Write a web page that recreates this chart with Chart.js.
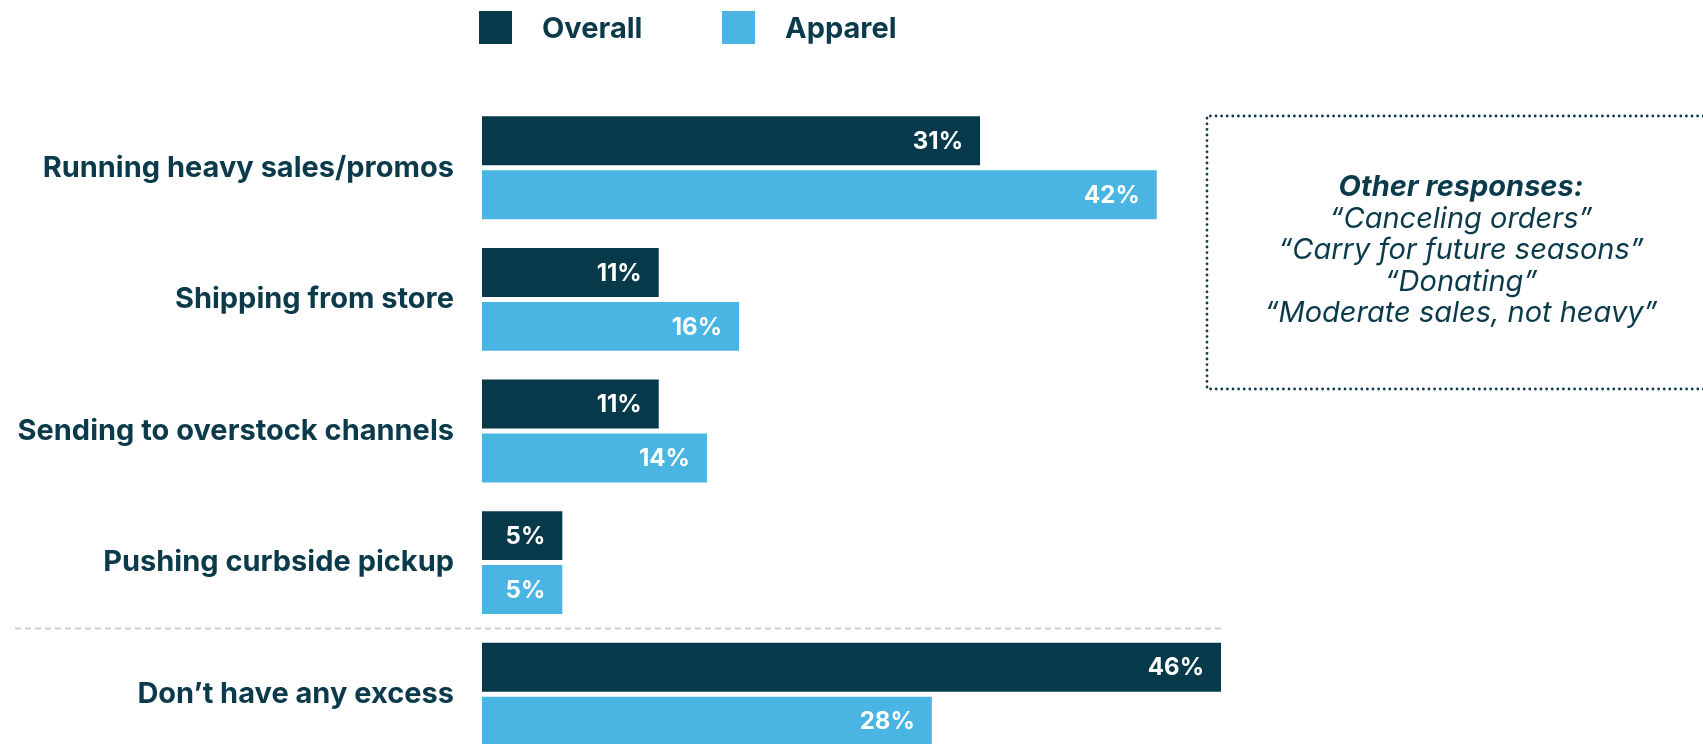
<!DOCTYPE html>
<html>
<head>
<meta charset="utf-8">
<script src="https://cdn.jsdelivr.net/npm/chart.js@4.4.0/dist/chart.umd.min.js"></script>
<style>
  html, body { margin: 0; padding: 0; background: #fff; overflow: hidden; }
  #wrap { width: 1703px; height: 760px; position: relative; }
</style>
</head>
<body>
<div id="wrap"><canvas id="chart"></canvas></div>
<script>
// survey: what retailers are doing with excess inventory
const categories = [
  "Running heavy sales/promos",
  "Shipping from store",
  "Sending to overstock channels",
  "Pushing curbside pickup",
  "Don\u2019t have any excess"
];
const seriesNames = ["Overall", "Apparel"];
const overall = [31, 11, 11, 5, 46];
const apparel = [42, 16, 14, 5, 28];
const otherTitle = "Other responses:";
const otherResponses = [
  "\u201cCanceling orders\u201d",
  "\u201cCarry for future seasons\u201d",
  "\u201cDonating\u201d",
  "\u201cModerate sales, not heavy\u201d"
];

const DARK = "#063a4b";
const LIGHT = "#4ab5e3";
const TEXT = "#0b3a4a";
const FONT = "Inter, 'DejaVu Sans', sans-serif";

// value labels, legend, separator and the side note
const decor = {
  id: "decor",
  afterDatasetsDraw(chart) {
    const ctx = chart.ctx;
    ctx.save();
    ctx.fillStyle = "#fff";
    ctx.font = "bold 24px " + FONT;
    ctx.textAlign = "right";
    ctx.textBaseline = "middle";
    chart.data.datasets.forEach((ds, di) => {
      const meta = chart.getDatasetMeta(di);
      meta.data.forEach((bar, i) => {
        ctx.fillText(ds.data[i] + "%", bar.x - 17, bar.y + 1);
      });
    });
    ctx.restore();
  },
  afterDraw(chart) {
    const ctx = chart.ctx;
    const left = chart.chartArea.left;
    ctx.save();

    // legend
    ctx.font = "bold 29px " + FONT;
    ctx.textBaseline = "middle";
    ctx.textAlign = "left";
    chart.data.datasets.forEach((ds, i) => {
      const x = left - 3 + i * 243;
      ctx.fillStyle = ds.backgroundColor;
      ctx.fillRect(x, 11, 33, 33);
      ctx.fillStyle = TEXT;
      ctx.fillText(ds.label, x + 63, 29);
    });

    // dashed line before the last category
    const ys = chart.scales.y;
    const sepY = (ys.getPixelForValue(3) + ys.getPixelForValue(4)) / 2;
    ctx.strokeStyle = "#cfcfd3";
    ctx.lineWidth = 2;
    ctx.setLineDash([6, 4]);
    ctx.beginPath();
    ctx.moveTo(15, sepY);
    ctx.lineTo(1221, sepY);
    ctx.stroke();

    // dotted note box
    ctx.strokeStyle = TEXT;
    ctx.lineWidth = 2.8;
    ctx.lineCap = "round";
    ctx.setLineDash([0, 5.6]);
    ctx.beginPath();
    ctx.moveTo(1720, 116);
    ctx.lineTo(1207, 116);
    ctx.lineTo(1207, 389);
    ctx.lineTo(1720, 389);
    ctx.stroke();
    ctx.setLineDash([]);

    ctx.textAlign = "center";
    ctx.fillStyle = TEXT;
    ctx.font = "italic bold 29px " + FONT;
    ctx.fillText(otherTitle, 1461, 187);
    ctx.font = "italic 29px " + FONT;
    otherResponses.forEach((t, i) => ctx.fillText(t, 1461, 219 + i * 31.5));
    ctx.restore();
  }
};

new Chart(document.getElementById("chart"), {
  type: "bar",
  data: {
    labels: categories,
    datasets: [
      { label: seriesNames[0], data: overall, backgroundColor: DARK },
      { label: seriesNames[1], data: apparel, backgroundColor: LIGHT }
    ]
  },
  options: {
    indexAxis: "y",
    responsive: true,
    maintainAspectRatio: false,
    animation: false,
    layout: { padding: { top: 102, right: 0, bottom: 0, left: 0 } },
    datasets: { bar: { barPercentage: 0.907, categoryPercentage: 0.82 } },
    scales: {
      x: { display: false, min: 0, max: 76 },
      y: {
        grid: { display: false, drawTicks: false },
        border: { display: false },
        ticks: { color: TEXT, padding: 28, font: { family: FONT, weight: "bold", size: 29 } },
        afterFit(scale) {
          scale.width = 482;
          // no extra room above/below for the tick text
          scale.paddingTop = 0;
          scale.paddingBottom = 0;
        }
      }
    },
    plugins: { legend: { display: false }, tooltip: { enabled: false } }
  },
  plugins: [decor]
});
</script>
</body>
</html>
